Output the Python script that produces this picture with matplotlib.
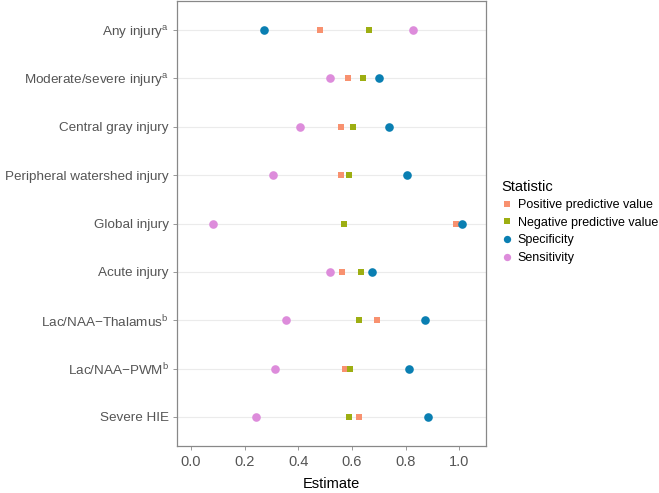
import matplotlib
matplotlib.use("Agg")
import matplotlib.pyplot as plt
from matplotlib.lines import Line2D

plt.rcParams['font.family'] = ['Liberation Sans', 'DejaVu Sans']
plt.rcParams['mathtext.fontset'] = 'custom'
plt.rcParams['mathtext.rm'] = 'Liberation Sans'

categories = [
    "Any injury$^{\\mathrm{a}}$",
    "Moderate/severe injury$^{\\mathrm{a}}$",
    "Central gray injury",
    "Peripheral watershed injury",
    "Global injury",
    "Acute injury",
    "Lac/NAA\u2212Thalamus$^{\\mathrm{b}}$",
    "Lac/NAA\u2212PWM$^{\\mathrm{b}}$",
    "Severe HIE",
]
ppv  = [0.480, 0.585, 0.558, 0.558, 0.989, 0.563, 0.694, 0.573, 0.626]
npv  = [0.663, 0.642, 0.606, 0.588, 0.572, 0.633, 0.626, 0.593, 0.590]
spec = [0.274, 0.701, 0.739, 0.805, 1.010, 0.674, 0.873, 0.812, 0.882]
sens = [0.828, 0.519, 0.407, 0.306, 0.081, 0.519, 0.355, 0.312, 0.241]
xticks = [0.0, 0.2, 0.4, 0.6, 0.8, 1.0]

series = [
    ("Positive predictive value", ppv, "#F8916F", "s", 5.0),
    ("Negative predictive value", npv, "#9DAE12", "s", 5.0),
    ("Specificity", spec, "#0A7FB2", "o", 6.2),
    ("Sensitivity", sens, "#DD8CDB", "o", 6.2),
]

fig = plt.figure(figsize=(6.59, 4.93), dpi=100)
ax = fig.add_axes([177/659, 1 - 446/493, (486 - 177)/659, 445/493])

n = len(categories)
ypos = list(range(n))
for label, vals, col, mk, ms in series:
    ax.plot(vals, ypos, linestyle="none", marker=mk, color=col, markersize=ms,
            markeredgewidth=0, label=label, zorder=3)

ax.set_ylim(n - 1 + 0.6, -0.6)
ax.set_xlim(-0.052, 1.10)
ax.set_yticks(ypos)
ax.set_yticklabels(categories, fontsize=9.7, color="#555555")
ax.set_xticks(xticks)
ax.set_xticklabels([f"{t:.1f}" for t in xticks], fontsize=10.5, color="#555555")
ax.set_xlabel("Estimate", fontsize=10.5, color="black", labelpad=6)
ax.grid(axis="y", color="#EBEBEB", linewidth=0.8, zorder=0)
ax.set_axisbelow(True)
for s in ax.spines.values():
    s.set_color("#888888")
    s.set_linewidth(0.9)
ax.tick_params(axis="both", colors="#888888", length=3, width=0.6, labelcolor="#555555")
ax.tick_params(axis="y", pad=3)

handles = [Line2D([], [], linestyle="none", marker=mk, color=col, markersize=ms * 0.85,
                  markeredgewidth=0) for _, _, col, mk, ms in series]
leg = fig.legend(handles, [s[0] for s in series], title="Statistic",
                 loc="center left", bbox_to_anchor=(0.743, 0.55), frameon=False,
                 fontsize=9, title_fontsize=10.5, handlelength=1.0,
                 handletextpad=0.35, labelspacing=0.45, alignment="left")

fig.savefig("out.png", dpi=100)
